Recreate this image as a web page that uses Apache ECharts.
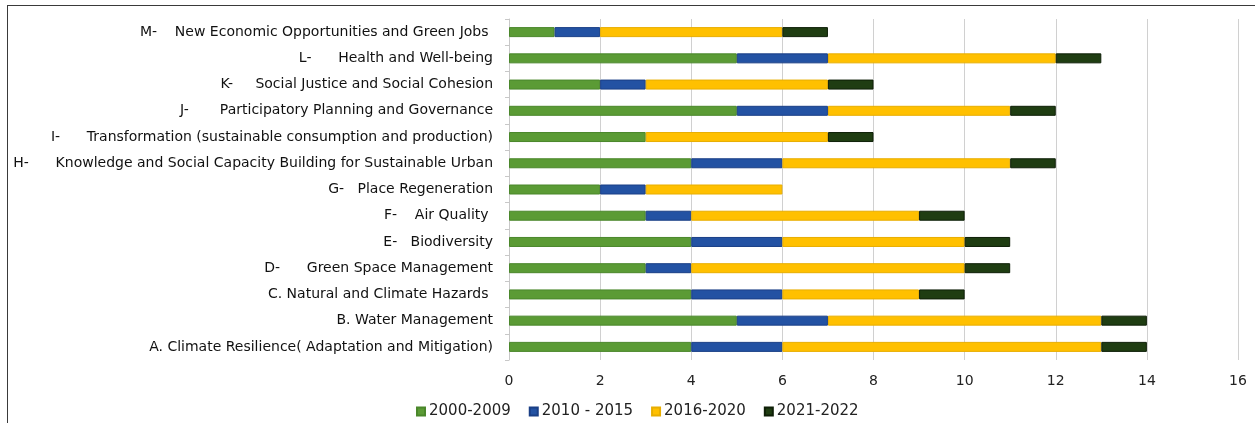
<!DOCTYPE html>
<html>
<head>
<meta charset="utf-8">
<script src="https://cdn.jsdelivr.net/npm/echarts@6/dist/echarts.min.js"></script>
<style>
  html, body { margin: 0; padding: 0; background: #fff; }
  #frame { position: absolute; left: 7px; top: 5px; width: 1260px; height: 430px;
           border-top: 1.5px solid #3a3a3a; border-left: 1.5px solid #3a3a3a; }
  #chart { position: absolute; left: 0; top: 0; width: 1255px; height: 423px; }
</style>
</head>
<body>
<div id="frame"></div>
<div id="chart"></div>
<script>
// Themes, listed bottom (A) to top (M)
const categories = [
  'A. Climate Resilience( Adaptation and Mitigation)',
  'B. Water Management',
  'C. Natural and Climate Hazards ',
  'D-      Green Space Management',
  'E-   Biodiversity',
  'F-    Air Quality ',
  'G-   Place Regeneration',
  'H-      Knowledge and Social Capacity Building for Sustainable Urban',
  'I-      Transformation (sustainable consumption and production)',
  'J-       Participatory Planning and Governance',
  'K-     Social Justice and Social Cohesion',
  'L-      Health and Well-being',
  'M-    New Economic Opportunities and Green Jobs '
];

const seriesNames = ['2000-2009', '2010 - 2015', '2016-2020', '2021-2022'];

// Number of items per period, same order as categories
const p2000_2009 = [4, 5, 4, 3, 4, 3, 2, 4, 3, 5, 2, 5, 1];
const p2010_2015 = [2, 2, 2, 1, 2, 1, 1, 2, 0, 2, 1, 2, 1];
const p2016_2020 = [7, 6, 3, 6, 4, 5, 3, 5, 4, 4, 4, 5, 4];
const p2021_2022 = [1, 1, 1, 1, 1, 1, 0, 1, 1, 1, 1, 1, 1];

const xTicks = { min: 0, max: 16, interval: 2 };

const fills   = ['#5b9b35', '#2352a3', '#ffc000', '#1f3d12'];
const borders = ['#4a872b', '#1a3f86', '#e8ae00', '#0e1f07'];

const values = [p2000_2009, p2010_2015, p2016_2020, p2021_2022];
const FONT = '"DejaVu Sans", sans-serif';

const chart = echarts.init(document.getElementById('chart'), null, { renderer: 'canvas' });

chart.setOption({
  animation: false,
  textStyle: { fontFamily: FONT },
  grid: { left: 509, right: 17, top: 19, bottom: 63, containLabel: false },
  legend: {
    bottom: -1,
    left: 411,
    icon: 'rect',
    itemWidth: 8,
    itemHeight: 8,
    itemGap: 18,
    textStyle: { fontFamily: FONT, fontSize: 15, color: '#222', padding: [0, 0, 0, -1] },
    data: seriesNames
  },
  xAxis: {
    type: 'value',
    min: xTicks.min,
    max: xTicks.max,
    interval: xTicks.interval,
    axisLine: { show: false },
    axisTick: { show: false },
    axisLabel: { fontFamily: FONT, fontSize: 14, color: '#222', margin: 14 },
    splitLine: { show: true, lineStyle: { color: '#d0d0d0', width: 1 } }
  },
  yAxis: {
    type: 'category',
    data: categories,
    axisLine: { show: true, lineStyle: { color: '#c8c8c8', width: 1 } },
    axisTick: { show: true, length: 4, lineStyle: { color: '#c8c8c8' } },
    axisLabel: { fontFamily: FONT, fontSize: 14, color: '#111', margin: 16 }
  },
  series: seriesNames.map((name, i) => ({
    name: name,
    type: 'bar',
    stack: 'total',
    barWidth: 10,
    itemStyle: { color: fills[i], borderColor: borders[i], borderWidth: 1 },
    data: values[i].map(v => (v === 0 ? null : v))
  }))
});
</script>
</body>
</html>
